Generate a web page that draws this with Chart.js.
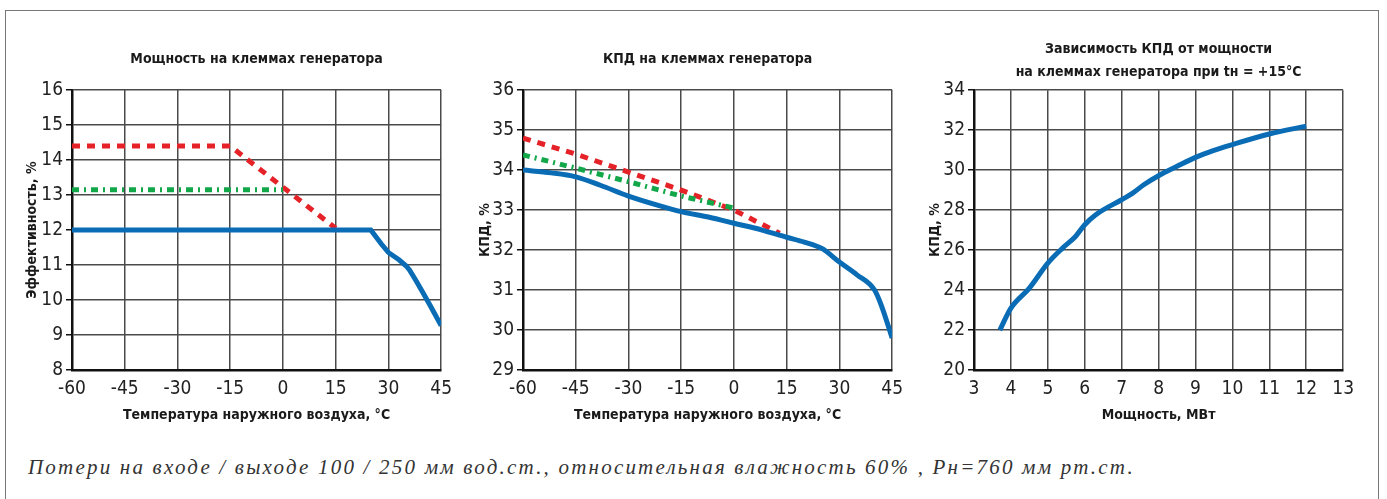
<!DOCTYPE html>
<html lang="ru">
<head>
<meta charset="utf-8">
<script src="https://cdn.jsdelivr.net/npm/chart.js@4.4.1/dist/chart.umd.min.js"></script>
<style>
  html, body { margin: 0; padding: 0; background: #fff; }
  #page { position: relative; width: 1387px; height: 499px; overflow: hidden; background: #fff; }
  #frame { position: absolute; left: 5px; top: 10px; width: 1374px; height: 520px;
           border: 1.5px solid #777; border-bottom: none; box-sizing: border-box; }
  canvas { position: absolute; top: 0; }
  #note { position: absolute; left: 28px; top: 455px; font-family: 'Liberation Serif', 'DejaVu Serif', serif;
          font-style: italic; font-size: 21px; color: #333; white-space: nowrap; letter-spacing: 2.2px; line-height: 24px; }
</style>
</head>
<body>
<div id="page">
  <div id="frame"></div>
  <canvas id="c1" width="460" height="440" style="left:0px"></canvas>
  <canvas id="c2" width="460" height="440" style="left:451px"></canvas>
  <canvas id="c3" width="460" height="440" style="left:902px"></canvas>
  <div id="note">Потери на входе / выходе 100 / 250 мм вод.ст., относительная влажность 60% , Рн=760 мм рт.ст.</div>
</div>
<script>
// --- данные ---
// 1. Мощность на клеммах генератора
var tempRed1 = [-60, -15, 15];
var effRed1 = [14.4, 14.4, 12.05];
var tempGreen1 = [-60, 0];
var effGreen1 = [13.15, 13.15];
var tempBlue1 = [-60, 25, 28, 30, 33, 35, 36, 38, 40, 42, 45];
var effBlue1 = [12, 12, 11.6, 11.36, 11.15, 10.98, 10.86, 10.53, 10.18, 9.82, 9.27];

// 2. КПД на клеммах генератора
var tempRed2 = [-60, -45, -30, -15, 0, 13];
var kpdRed2 = [34.8, 34.4, 33.95, 33.5, 33.0, 32.42];
var tempGreen2 = [-60, -45, -30, -15, 0];
var kpdGreen2 = [34.38, 34.05, 33.71, 33.35, 33.05];
var tempBlue2 = [-60, -52, -45, -38, -30, -22, -15, -7, 0, 8, 15, 20, 25, 30, 35, 40, 42, 45];
var kpdBlue2 = [34.0, 33.93, 33.83, 33.62, 33.35, 33.13, 32.96, 32.82, 32.67, 32.5, 32.32, 32.2, 32.04, 31.7, 31.38, 31.0, 30.6, 29.8];

// 3. Зависимость КПД от мощности при tн = +15 °C
var powerMw = [3.7, 4.0, 4.5, 5.0, 5.4, 5.75, 6.0, 6.3, 7.0, 7.3, 7.6, 8.0, 8.5, 9.0, 9.5, 10.0, 11.0, 12.0];
var kpdByPower = [22.0, 23.1, 24.1, 25.35, 26.1, 26.68, 27.27, 27.77, 28.52, 28.85, 29.27, 29.72, 30.19, 30.64, 30.99, 31.28, 31.81, 32.2];

var tempTicks = [-60, -45, -30, -15, 0, 15, 30, 45];
var powerTicks = [3, 4, 5, 6, 7, 8, 9, 10, 11, 12, 13];

var FONT = "'Liberation Sans Narrow', 'DejaVu Sans Condensed', 'Arial Narrow', sans-serif";
var BLUE = "#0a6cb5", RED = "#e52228", GREEN = "#12a84a";

function pts(xs, ys) {
  return xs.map(function (x, i) { return { x: x, y: ys[i] }; });
}

function line(xs, ys, color, dash, smooth) {
  return {
    data: pts(xs, ys),
    borderColor: color,
    borderWidth: 5,
    borderDash: dash || [],
    borderCapStyle: "butt",
    pointRadius: 0,
    tension: smooth ? 0.4 : 0,
    cubicInterpolationMode: smooth ? "monotone" : "default",
    fill: false,
  };
}

function makeChart(id, title, datasets, x, y) {
  return new Chart(document.getElementById(id), {
    type: "line",
    data: { datasets: datasets },
    options: {
      responsive: false,
      animation: false,
      devicePixelRatio: 1,
      layout: { padding: { left: 0, right: 15, top: 0, bottom: 0 } },
      plugins: {
        legend: { display: false },
        tooltip: { enabled: false },
        title: {
          display: true,
          text: title.text,
          fullSize: false,
          color: "#1a1a1a",
          font: { family: FONT, size: 14, weight: "bold", lineHeight: 1.65 },
          padding: title.padding,
        },
      },
      scales: {
        x: {
          type: "linear",
          min: x.min, max: x.max,
          afterBuildTicks: function (s) { s.ticks = x.ticks.map(function (v) { return { value: v }; }); },
          afterFit: function (s) { s.height = 70; },
          grid: { color: "#4a4a4a", lineWidth: 1.5, drawTicks: false },
          border: { color: "#111", width: 2.5 },
          ticks: { color: "#222", padding: 8, font: { family: FONT, size: 19 } },
          title: { display: true, text: x.title, color: "#1a1a1a", padding: { top: 0, bottom: 16 },
                   font: { family: FONT, size: 14, weight: "bold" } },
        },
        y: {
          min: y.min, max: y.max,
          ticks: { stepSize: y.step, color: "#222", padding: 3, font: { family: FONT, size: 19 } },
          afterFit: function (s) { s.width = 72; },
          grid: { color: "#4a4a4a", lineWidth: 1.5, tickLength: 6, tickColor: "#111" },
          border: { color: "#111", width: 2.5 },
          title: { display: true, text: y.title, color: "#1a1a1a", padding: { top: y.tpad, bottom: 0 },
                   font: { family: FONT, size: 14, weight: "bold" } },
        },
      },
    },
  });
}

makeChart("c1",
  { text: "Мощность на клеммах генератора", padding: { top: 48, bottom: 19 } },
  [line(tempBlue1, effBlue1, BLUE), line(tempGreen1, effGreen1, GREEN, [7, 5, 2, 5]), line(tempRed1, effRed1, RED, [8, 7])],
  { min: -60, max: 45, ticks: tempTicks, title: "Температура наружного воздуха, °C" },
  { min: 8, max: 16, step: 1, title: "Эффективность, %", tpad: 23.5 });

makeChart("c2",
  { text: "КПД на клеммах генератора", padding: { top: 48, bottom: 19 } },
  [line(tempBlue2, kpdBlue2, BLUE, null, true), line(tempGreen2, kpdGreen2, GREEN, [7, 5, 2, 5]), line(tempRed2, kpdRed2, RED, [8, 7])],
  { min: -60, max: 45, ticks: tempTicks, title: "Температура наружного воздуха, °C" },
  { min: 29, max: 36, step: 1, title: "КПД, %", tpad: 25.5 });

makeChart("c3",
  { text: ["Зависимость КПД от мощности", "на клеммах генератора при tн = +15°C"], padding: { top: 38, bottom: 6 } },
  [line(powerMw, kpdByPower, BLUE, null, true)],
  { min: 3, max: 13, ticks: powerTicks, title: "Мощность, МВт" },
  { min: 20, max: 34, step: 2, title: "КПД, %", tpad: 24.5 });
</script>
</body>
</html>
